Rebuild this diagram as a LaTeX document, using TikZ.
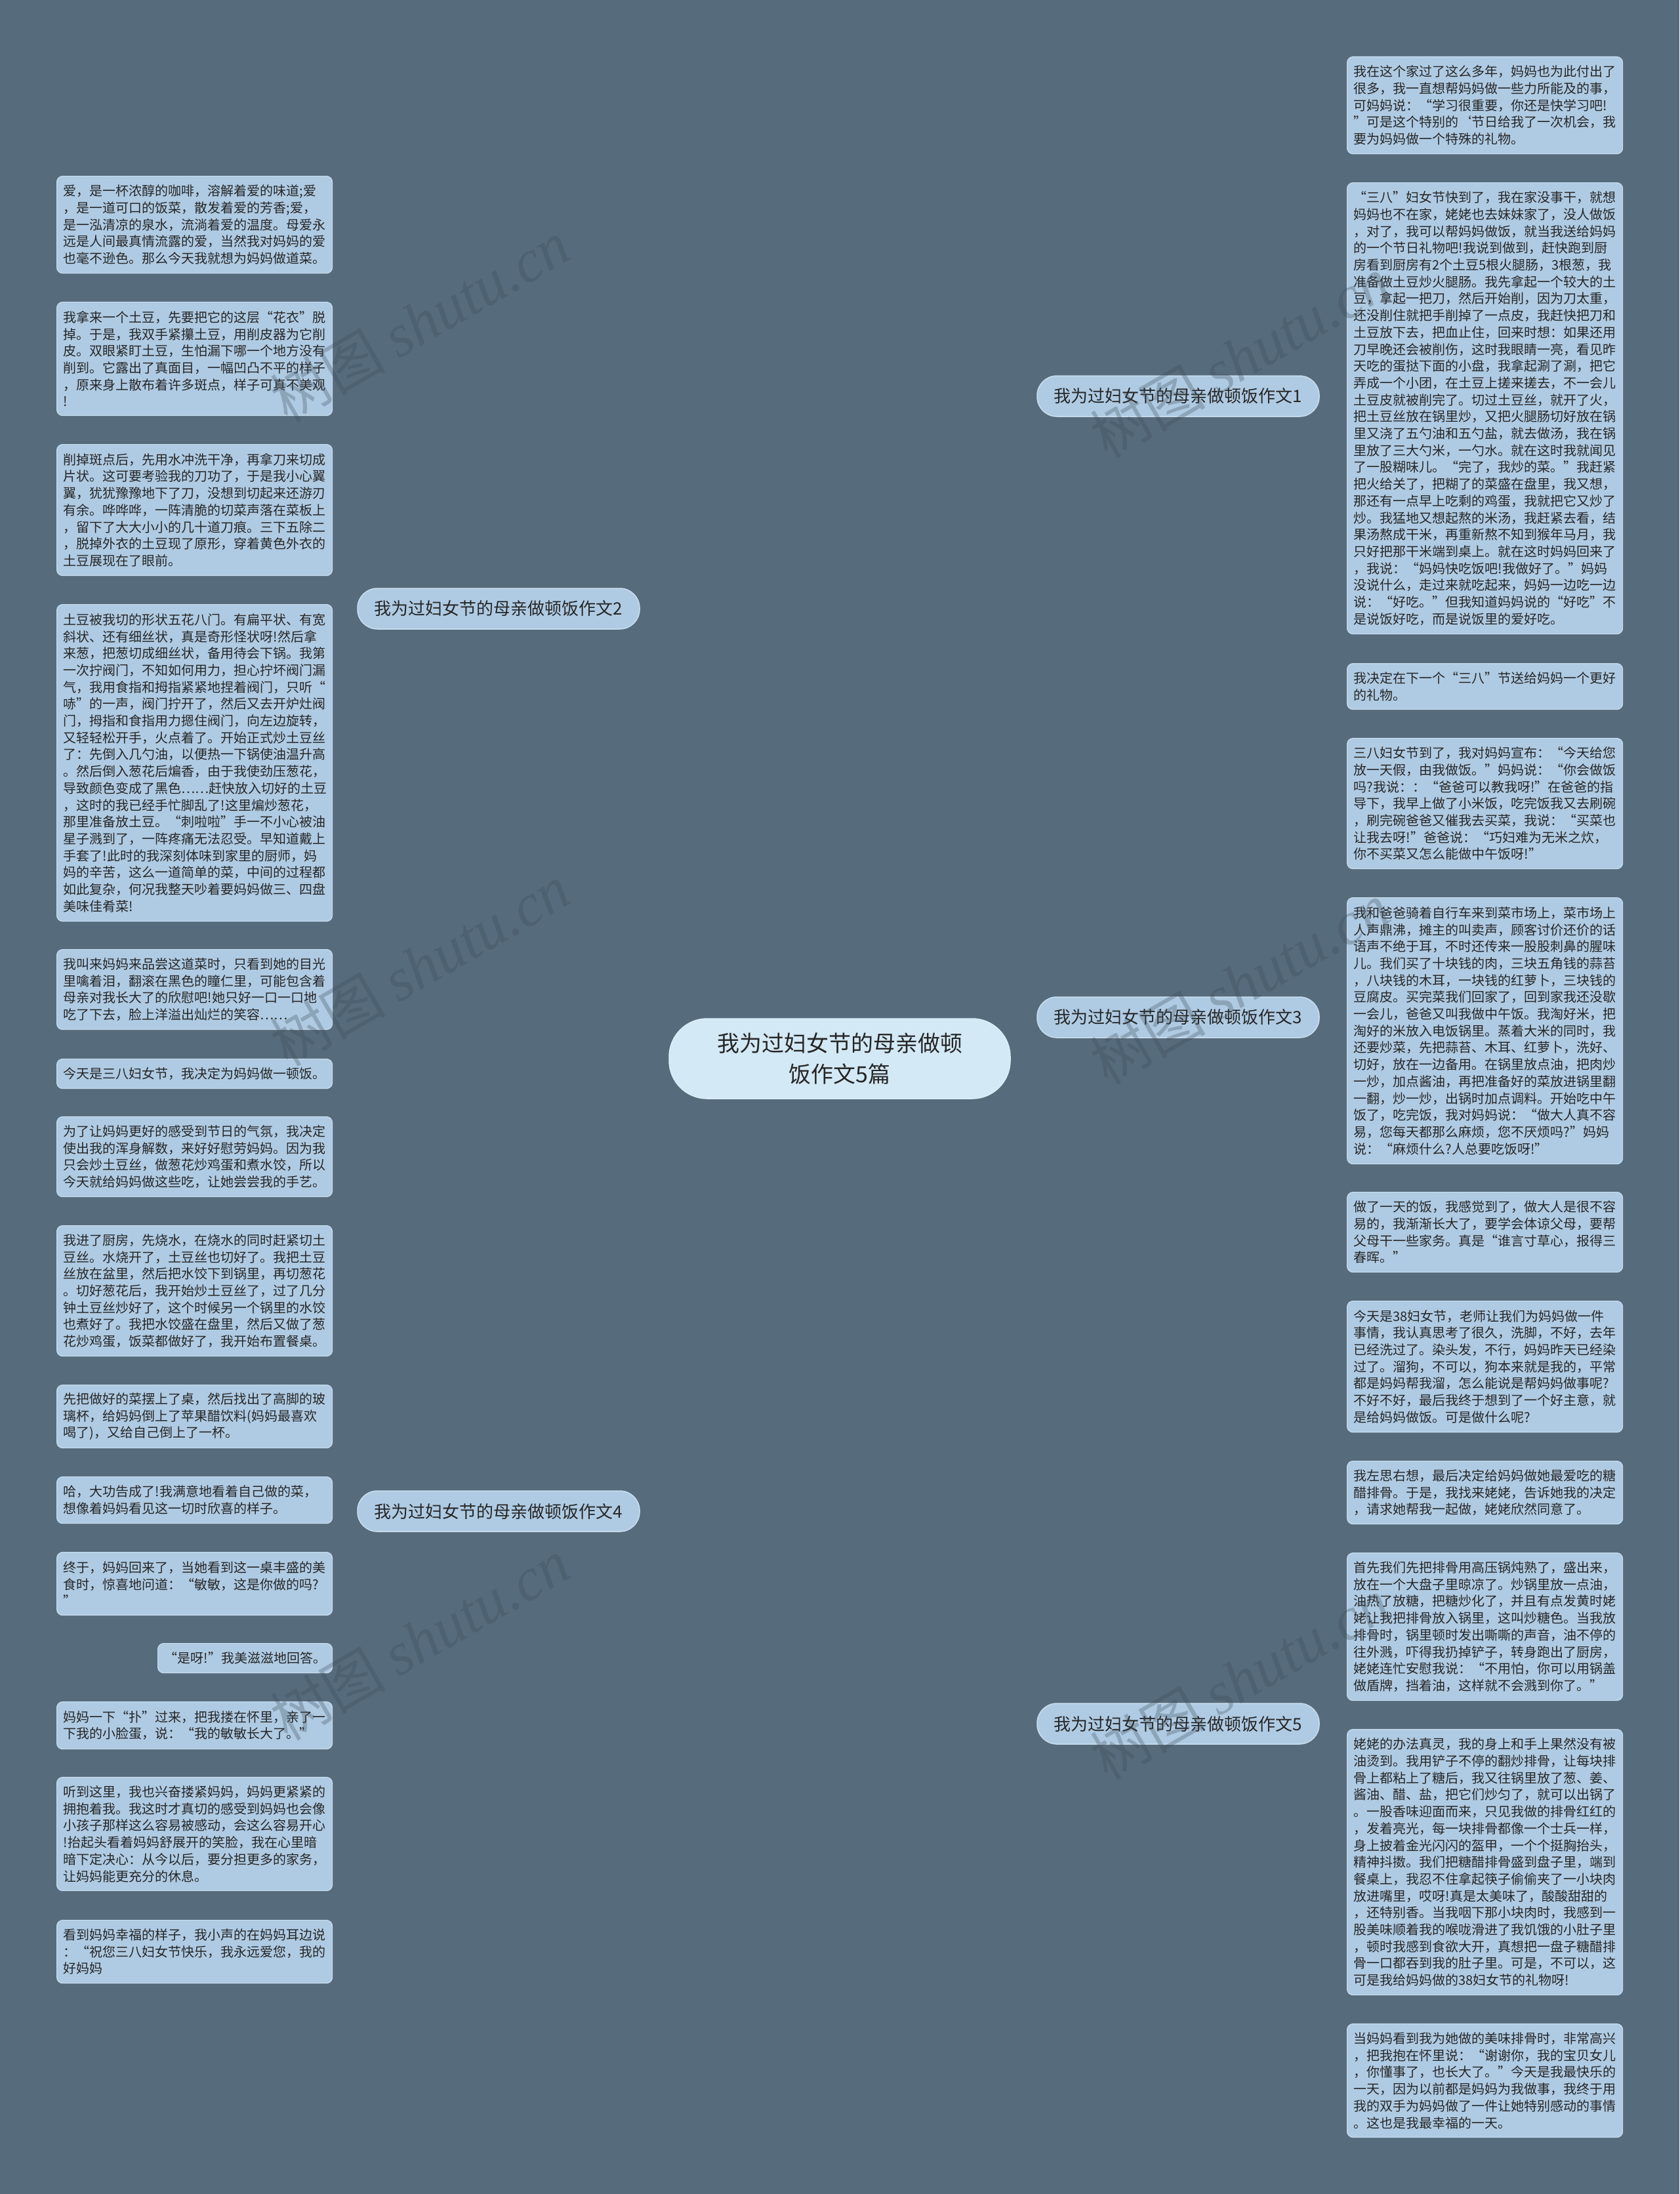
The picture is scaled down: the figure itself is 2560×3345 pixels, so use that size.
\documentclass[tikz,border=0pt]{standalone}
\usepackage{fontspec}
\setmainfont{Noto Sans CJK SC}
\newfontfamily\wmserif{Liberation Serif}
\usetikzlibrary{calc}
\definecolor{bgc}{HTML}{566B7C}
\definecolor{leaffill}{HTML}{AFCBE3}
\definecolor{leafline}{HTML}{C9DEEE}
\definecolor{rootfill}{HTML}{D3E9F5}
\definecolor{edgec}{HTML}{DDEEF8}
\definecolor{txt}{HTML}{262626}
\definecolor{wmc}{HTML}{3E4B57}
\pgfdeclarelayer{bg}
\pgfdeclarelayer{wm}
\pgfsetlayers{bg,main,wm}
\tikzset{
  leaf/.style={draw=leafline, line width=1.2pt, fill=leaffill, rounded corners=9pt,
    anchor=north west, align=left, text width=400pt, inner xsep=10pt, inner ysep=0pt,
    font=\fontsize{20pt}{25.7pt}\selectfont, text=txt},
  branch/.style={draw=leafline, line width=1.5pt, fill=leaffill, rounded corners=30pt,
    minimum width=430pt, minimum height=62pt, inner sep=0pt,
    font=\fontsize{26pt}{30pt}\selectfont, text=txt},
  rootnode/.style={draw=edgec, line width=1.5pt, fill=rootfill, rounded corners=58pt,
    minimum width=520pt, minimum height=122pt, inner sep=0pt, align=center,
    font=\fontsize{34pt}{47pt}\selectfont, text=txt},
  mainedge/.style={draw=edgec, line width=3pt, line cap=round},
  leafedge/.style={draw=edgec, line width=2.5pt, line cap=round},
  wmark/.style={text=wmc, opacity=0.3, rotate=30, inner sep=0pt}
}
\begin{document}
\begin{tikzpicture}[x=1pt,y=-1pt]
\useasboundingbox (0,0) rectangle (2560,3345);
\fill[bgc] (0,0) rectangle (2560,3345);

% root and branches
\node[rootnode] (C) at (1280,1614) {我为过妇女节的母亲做顿\\饭作文5篇};
\node[branch] (B1) at (1796,604) {我为过妇女节的母亲做顿饭作文1};
\node[branch] (B2) at (760,928) {我为过妇女节的母亲做顿饭作文2};
\node[branch] (B3) at (1796,1551) {我为过妇女节的母亲做顿饭作文3};
\node[branch] (B4) at (760,2304) {我为过妇女节的母亲做顿饭作文4};
\node[branch] (B5) at (1796,2628) {我为过妇女节的母亲做顿饭作文5};

% left leaves, branch 2
\node[leaf, minimum height=148pt] (L1) at (86,268) {爱，是一杯浓醇的咖啡，溶解着爱的味道;爱\\，是一道可口的饭菜，散发着爱的芳香;爱，\\是一泓清凉的泉水，流淌着爱的温度。母爱永\\远是人间最真情流露的爱，当然我对妈妈的爱\\也毫不逊色。那么今天我就想为妈妈做道菜。};
\node[leaf, minimum height=173pt] (L2) at (86,460) {我拿来一个土豆，先要把它的这层“花衣”脱\\掉。于是，我双手紧攥土豆，用削皮器为它削\\皮。双眼紧盯土豆，生怕漏下哪一个地方没有\\削到。它露出了真面目，一幅凹凸不平的样子\\，原来身上散布着许多斑点，样子可真不美观\\!};
\node[leaf, minimum height=200pt] (L3) at (86,677) {削掉斑点后，先用水冲洗干净，再拿刀来切成\\片状。这可要考验我的刀功了，于是我小心翼\\翼，犹犹豫豫地下了刀，没想到切起来还游刃\\有余。哗哗哗，一阵清脆的切菜声落在菜板上\\，留下了大大小小的几十道刀痕。三下五除二\\，脱掉外衣的土豆现了原形，穿着黄色外衣的\\土豆展现在了眼前。};
\node[leaf, minimum height=483pt] (L4) at (86,921) {土豆被我切的形状五花八门。有扁平状、有宽\\斜状、还有细丝状，真是奇形怪状呀!然后拿\\来葱，把葱切成细丝状，备用待会下锅。我第\\一次拧阀门，不知如何用力，担心拧坏阀门漏\\气，我用食指和拇指紧紧地捏着阀门，只听“\\哧”的一声，阀门拧开了，然后又去开炉灶阀\\门，拇指和食指用力摁住阀门，向左边旋转，\\又轻轻松开手，火点着了。开始正式炒土豆丝\\了：先倒入几勺油，以便热一下锅使油温升高\\。然后倒入葱花后煸香，由于我使劲压葱花，\\导致颜色变成了黑色……赶快放入切好的土豆\\，这时的我已经手忙脚乱了!这里煸炒葱花，\\那里准备放土豆。“刺啦啦”手一不小心被油\\星子溅到了，一阵疼痛无法忍受。早知道戴上\\手套了!此时的我深刻体味到家里的厨师，妈\\妈的辛苦，这么一道简单的菜，中间的过程都\\如此复杂，何况我整天吵着要妈妈做三、四盘\\美味佳肴菜!};
\node[leaf, minimum height=122pt] (L5) at (86,1447) {我叫来妈妈来品尝这道菜时，只看到她的目光\\里噙着泪，翻滚在黑色的瞳仁里，可能包含着\\母亲对我长大了的欣慰吧!她只好一口一口地\\吃了下去，脸上洋溢出灿烂的笑容……};

% left leaves, branch 4
\node[leaf, minimum height=45pt] (L6) at (86,1614) {今天是三八妇女节，我决定为妈妈做一顿饭。};
\node[leaf, minimum height=122pt] (L7) at (86,1702) {为了让妈妈更好的感受到节日的气氛，我决定\\使出我的浑身解数，来好好慰劳妈妈。因为我\\只会炒土豆丝，做葱花炒鸡蛋和煮水饺，所以\\今天就给妈妈做这些吃，让她尝尝我的手艺。};
\node[leaf, minimum height=199pt] (L8) at (86,1868) {我进了厨房，先烧水，在烧水的同时赶紧切土\\豆丝。水烧开了，土豆丝也切好了。我把土豆\\丝放在盆里，然后把水饺下到锅里，再切葱花\\。切好葱花后，我开始炒土豆丝了，过了几分\\钟土豆丝炒好了，这个时候另一个锅里的水饺\\也煮好了。我把水饺盛在盘里，然后又做了葱\\花炒鸡蛋，饭菜都做好了，我开始布置餐桌。};
\node[leaf, minimum height=96pt] (L9) at (86,2111) {先把做好的菜摆上了桌，然后找出了高脚的玻\\璃杯，给妈妈倒上了苹果醋饮料(妈妈最喜欢\\喝了)，又给自己倒上了一杯。};
\node[leaf, minimum height=71pt] (L10) at (86,2251) {哈，大功告成了!我满意地看着自己做的菜，\\想像着妈妈看见这一切时欣喜的样子。};
\node[leaf, minimum height=96pt] (L11) at (86,2366) {终于，妈妈回来了，当她看到这一桌丰盛的美\\食时，惊喜地问道：“敏敏，这是你做的吗?\\”};
\node[leaf, minimum height=45pt, text width=246pt, align=center] (L12) at (240,2505) {“是呀!”我美滋滋地回答。};
\node[leaf, minimum height=72pt] (L13) at (86,2594) {妈妈一下“扑”过来，把我搂在怀里，亲了一\\下我的小脸蛋，说：“我的敏敏长大了。”};
\node[leaf, minimum height=173pt] (L14) at (86,2709) {听到这里，我也兴奋搂紧妈妈，妈妈更紧紧的\\拥抱着我。我这时才真切的感受到妈妈也会像\\小孩子那样这么容易被感动，会这么容易开心\\!抬起头看着妈妈舒展开的笑脸，我在心里暗\\暗下定决心：从今以后，要分担更多的家务，\\让妈妈能更充分的休息。};
\node[leaf, minimum height=96pt] (L15) at (86,2927) {看到妈妈幸福的样子，我小声的在妈妈耳边说\\：“祝您三八妇女节快乐，我永远爱您，我的\\好妈妈};

% right leaves, branch 1
\node[leaf, minimum height=148pt] (R1) at (2053,86) {我在这个家过了这么多年，妈妈也为此付出了\\很多，我一直想帮妈妈做一些力所能及的事，\\可妈妈说：“学习很重要，你还是快学习吧!\\”可是这个特别的`节日给我了一次机会，我\\要为妈妈做一个特殊的礼物。};
\node[leaf, minimum height=688pt] (R2) at (2053,278) {“三八”妇女节快到了，我在家没事干，就想\\妈妈也不在家，姥姥也去妹妹家了，没人做饭\\，对了，我可以帮妈妈做饭，就当我送给妈妈\\的一个节日礼物吧!我说到做到，赶快跑到厨\\房看到厨房有2个土豆5根火腿肠，3根葱，我\\准备做土豆炒火腿肠。我先拿起一个较大的土\\豆，拿起一把刀，然后开始削，因为刀太重，\\还没削住就把手削掉了一点皮，我赶快把刀和\\土豆放下去，把血止住，回来时想：如果还用\\刀早晚还会被削伤，这时我眼睛一亮，看见昨\\天吃的蛋挞下面的小盘，我拿起涮了涮，把它\\弄成一个小团，在土豆上搓来搓去，不一会儿\\土豆皮就被削完了。切过土豆丝，就开了火，\\把土豆丝放在锅里炒，又把火腿肠切好放在锅\\里又浇了五勺油和五勺盐，就去做汤，我在锅\\里放了三大勺米，一勺水。就在这时我就闻见\\了一股糊味儿。“完了，我炒的菜。”我赶紧\\把火给关了，把糊了的菜盛在盘里，我又想，\\那还有一点早上吃剩的鸡蛋，我就把它又炒了\\炒。我猛地又想起熬的米汤，我赶紧去看，结\\果汤熬成干米，再重新熬不知到猴年马月，我\\只好把那干米端到桌上。就在这时妈妈回来了\\，我说：“妈妈快吃饭吧!我做好了。”妈妈\\没说什么，走过来就吃起来，妈妈一边吃一边\\说：“好吃。”但我知道妈妈说的“好吃”不\\是说饭好吃，而是说饭里的爱好吃。};
\node[leaf, minimum height=70pt] (R3) at (2053,1011) {我决定在下一个“三八”节送给妈妈一个更好\\的礼物。};

% right leaves, branch 3
\node[leaf, minimum height=199pt] (R4) at (2053,1125) {三八妇女节到了，我对妈妈宣布：“今天给您\\放一天假，由我做饭。”妈妈说：“你会做饭\\吗?我说：：“爸爸可以教我呀!”在爸爸的指\\导下，我早上做了小米饭，吃完饭我又去刷碗\\，刷完碗爸爸又催我去买菜，我说：“买菜也\\让我去呀!”爸爸说：“巧妇难为无米之炊，\\你不买菜又怎么能做中午饭呀!”};
\node[leaf, minimum height=406pt] (R5) at (2053,1368) {我和爸爸骑着自行车来到菜市场上，菜市场上\\人声鼎沸，摊主的叫卖声，顾客讨价还价的话\\语声不绝于耳，不时还传来一股股刺鼻的腥味\\儿。我们买了十块钱的肉，三块五角钱的蒜苔\\，八块钱的木耳，一块钱的红萝卜，三块钱的\\豆腐皮。买完菜我们回家了，回到家我还没歇\\一会儿，爸爸又叫我做中午饭。我淘好米，把\\淘好的米放入电饭锅里。蒸着大米的同时，我\\还要炒菜，先把蒜苔、木耳、红萝卜，洗好、\\切好，放在一边备用。在锅里放点油，把肉炒\\一炒，加点酱油，再把准备好的菜放进锅里翻\\一翻，炒一炒，出锅时加点调料。开始吃中午\\饭了，吃完饭，我对妈妈说：“做大人真不容\\易，您每天都那么麻烦，您不厌烦吗?”妈妈\\说：“麻烦什么?人总要吃饭呀!”};
\node[leaf, minimum height=122pt] (R6) at (2053,1817) {做了一天的饭，我感觉到了，做大人是很不容\\易的，我渐渐长大了，要学会体谅父母，要帮\\父母干一些家务。真是“谁言寸草心，报得三\\春晖。”};

% right leaves, branch 5
\node[leaf, minimum height=200pt] (R7) at (2053,1983) {今天是38妇女节，老师让我们为妈妈做一件\\事情，我认真思考了很久，洗脚，不好，去年\\已经洗过了。染头发，不行，妈妈昨天已经染\\过了。溜狗，不可以，狗本来就是我的，平常\\都是妈妈帮我溜，怎么能说是帮妈妈做事呢?\\不好不好，最后我终于想到了一个好主意，就\\是给妈妈做饭。可是做什么呢?};
\node[leaf, minimum height=96pt] (R8) at (2053,2227) {我左思右想，最后决定给妈妈做她最爱吃的糖\\醋排骨。于是，我找来姥姥，告诉她我的决定\\，请求她帮我一起做，姥姥欣然同意了。};
\node[leaf, minimum height=225pt] (R9) at (2053,2367) {首先我们先把排骨用高压锅炖熟了，盛出来，\\放在一个大盘子里晾凉了。炒锅里放一点油，\\油热了放糖，把糖炒化了，并且有点发黄时姥\\姥让我把排骨放入锅里，这叫炒糖色。当我放\\排骨时，锅里顿时发出嘶嘶的声音，油不停的\\往外溅，吓得我扔掉铲子，转身跑出了厨房，\\姥姥连忙安慰我说：“不用怕，你可以用锅盖\\做盾牌，挡着油，这样就不会溅到你了。”};
\node[leaf, minimum height=405pt] (R10) at (2053,2636) {姥姥的办法真灵，我的身上和手上果然没有被\\油烫到。我用铲子不停的翻炒排骨，让每块排\\骨上都粘上了糖后，我又往锅里放了葱、姜、\\酱油、醋、盐，把它们炒匀了，就可以出锅了\\。一股香味迎面而来，只见我做的排骨红红的\\，发着亮光，每一块排骨都像一个士兵一样，\\身上披着金光闪闪的盔甲，一个个挺胸抬头，\\精神抖擞。我们把糖醋排骨盛到盘子里，端到\\餐桌上，我忍不住拿起筷子偷偷夹了一小块肉\\放进嘴里，哎呀!真是太美味了，酸酸甜甜的\\，还特别香。当我咽下那小块肉时，我感到一\\股美味顺着我的喉咙滑进了我饥饿的小肚子里\\，顿时我感到食欲大开，真想把一盘子糖醋排\\骨一口都吞到我的肚子里。可是，不可以，这\\可是我给妈妈做的38妇女节的礼物呀!};
\node[leaf, minimum height=173pt] (R11) at (2053,3085) {当妈妈看到我为她做的美味排骨时，非常高兴\\，把我抱在怀里说：“谢谢你，我的宝贝女儿\\，你懂事了，也长大了。”今天是我最快乐的\\一天，因为以前都是妈妈为我做事，我终于用\\我的双手为妈妈做了一件让她特别感动的事情\\。这也是我最幸福的一天。};

\begin{pgfonlayer}{bg}
  \foreach \b in {B1,B3,B5}
    \draw[mainedge] (C.center) .. controls (C.center |- \b.west) .. (\b.west);
  \foreach \b in {B2,B4}
    \draw[mainedge] (C.center) .. controls (C.center |- \b.east) .. (\b.east);
  \foreach \l in {R1,R2,R3}
    \draw[leafedge] (B1.east) .. controls +(21,0) and +(-21,0) .. (\l.west);
  \foreach \l in {R4,R5,R6}
    \draw[leafedge] (B3.east) .. controls +(21,0) and +(-21,0) .. (\l.west);
  \foreach \l in {R7,R8,R9,R10,R11}
    \draw[leafedge] (B5.east) .. controls +(21,0) and +(-21,0) .. (\l.west);
  \foreach \l in {L1,L2,L3,L4,L5}
    \draw[leafedge] (B2.west) .. controls +(-19,0) and +(19,0) .. (\l.east);
  \foreach \l in {L6,L7,L8,L9,L10,L11,L12,L13,L14,L15}
    \draw[leafedge] (B4.west) .. controls +(-19,0) and +(19,0) .. (\l.east);
\end{pgfonlayer}

\begin{pgfonlayer}{wm}
  \foreach \p [count=\i] in {(640,490),(1890,545),(640,1472),(1890,1500),(640,2500),(1890,2560)}
    \node[wmark] (W\i) at \p {\fontsize{88pt}{90pt}\selectfont 树图\ {\wmserif\itshape\fontsize{92pt}{94pt}\selectfont shutu.cn}};
\end{pgfonlayer}
\end{tikzpicture}
\end{document}
